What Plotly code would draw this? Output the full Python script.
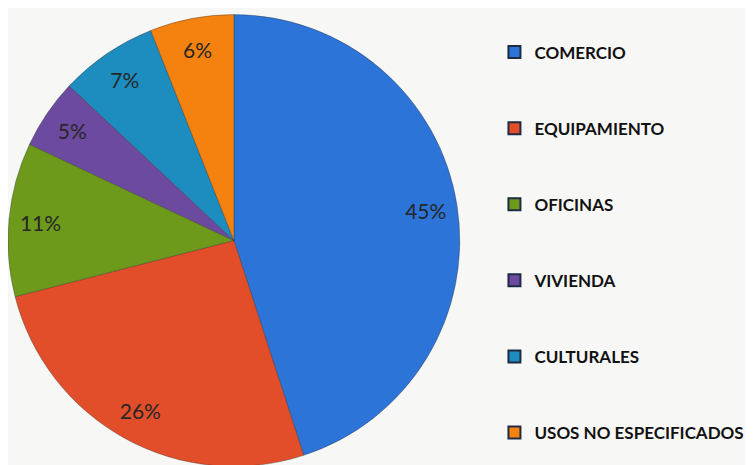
import plotly.graph_objects as go

# Data
categories = ["COMERCIO", "EQUIPAMIENTO", "OFICINAS", "VIVIENDA", "CULTURALES", "USOS NO ESPECIFICADOS"]
shares = [45, 26, 11, 5, 7, 6]
colors = ["#2c74d8", "#e24e2a", "#6e9a1c", "#6c4aa0", "#1d8cbf", "#f5820f"]

PIE_DOMAIN = dict(x=[0.0, 0.6], y=[0.0, 1])
FONT = "Lato"

fig = go.Figure()

# 1. Solid pie (no text)
fig.add_trace(go.Pie(
    labels=categories,
    values=shares,
    sort=False,
    direction="clockwise",
    rotation=0,
    domain=PIE_DOMAIN,
    marker=dict(colors=colors, line=dict(color="rgba(40,40,40,0.35)", width=1)),
    textinfo="none",
    showlegend=False,
    hoverinfo="label+percent",
))

# 2. Transparent ring on top so the percentages sit near the rim
fig.add_trace(go.Pie(
    labels=categories,
    values=shares,
    sort=False,
    direction="clockwise",
    rotation=0,
    hole=0.72,
    domain=PIE_DOMAIN,
    marker=dict(colors=["rgba(0,0,0,0)"] * len(shares), line=dict(width=0)),
    texttemplate="%{value}%",
    textposition="inside",
    insidetextorientation="horizontal",
    textfont=dict(family=FONT, size=21, color="#262626"),
    showlegend=False,
    hoverinfo="skip",
))

# 3. Legend entries as dummy traces so the spacing can be set
for name, col in zip(categories, colors):
    fig.add_trace(go.Scatter(
        x=[None], y=[None],
        mode="markers",
        name=name,
        legendgroup=name,
        marker=dict(symbol="square", size=8, color=col, line=dict(color="#1f2a44", width=1)),
    ))

fig.update_layout(
    width=753,
    height=465,
    margin=dict(l=0, r=0, t=0, b=0),
    paper_bgcolor="#f7f7f6",
    plot_bgcolor="#f7f7f6",
    xaxis=dict(visible=False),
    yaxis=dict(visible=False),
    legend=dict(
        x=0.646, y=0.943, xanchor="left", yanchor="top",
        font=dict(family=FONT, size=17, color="#111111", weight="bold"),
        tracegroupgap=51,
        itemwidth=30,
        itemsizing="constant",
        bgcolor="rgba(0,0,0,0)",
    ),
)

fig.write_html("out.html")
